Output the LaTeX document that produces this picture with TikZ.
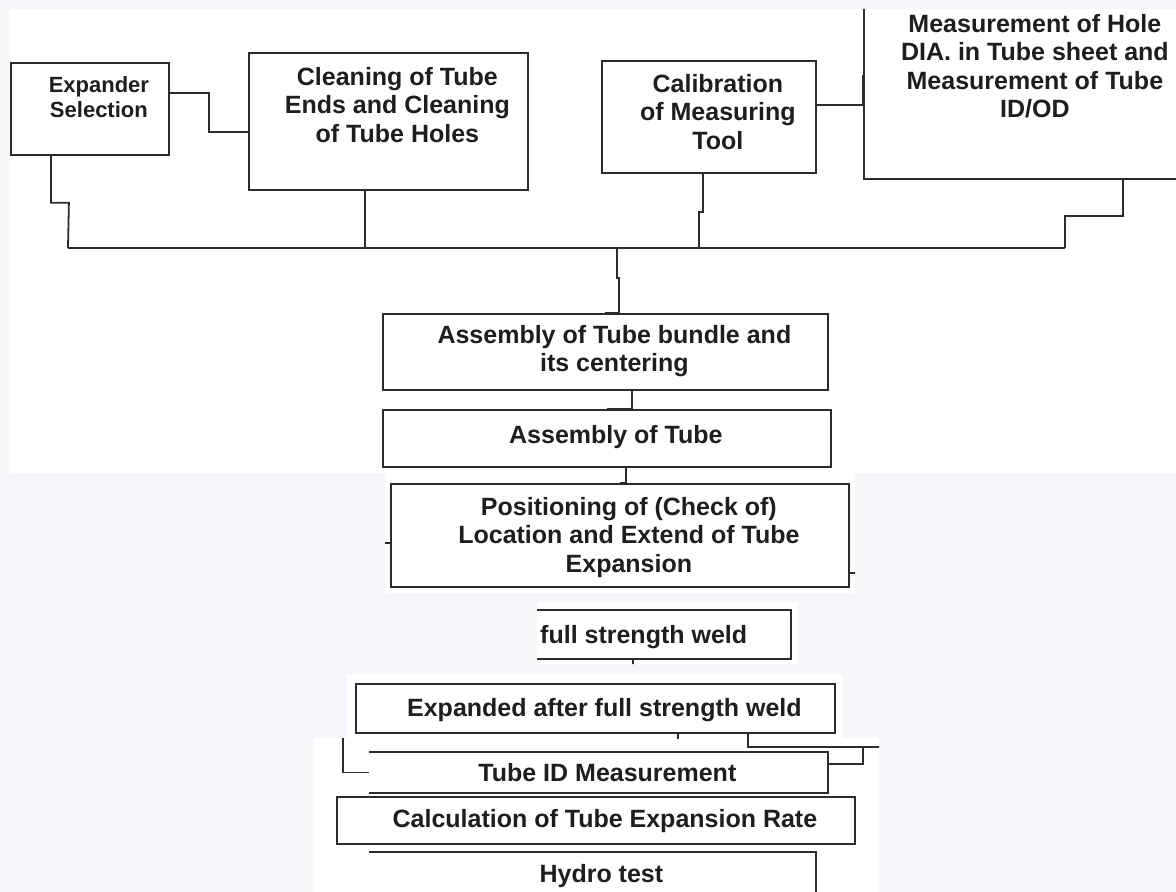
\documentclass[tikz,border=0pt]{standalone}
\usepackage{fontspec}
\setmainfont{Liberation Sans}
\usepackage{xcolor}
\usepackage{tikz}
\definecolor{linegray}{HTML}{2C2C2C}
\definecolor{textgray}{HTML}{1E1E1E}
\definecolor{paper}{HTML}{F5F7FA}
\newcommand{\patchpath}{(9,9) rectangle (1176,473) (385,473) rectangle (855,593) (537,602) rectangle (797,664) (347,674) rectangle (843,738) (313,738) rectangle (879,892)}

\begin{document}
\begin{tikzpicture}[x=1pt,y=-1pt]
\tikzset{b/.style={draw=linegray,line width=1.8pt,fill=white,anchor=north west,inner sep=0pt}, nb/.style={b,draw=none}, t/.style={font=\bfseries\fontsize{25}{28.5}\selectfont,text=textgray,align=center,inner sep=0pt,anchor=north,xshift=9pt}, a/.style={draw=linegray,line width=1.8pt}}
\fill[paper] (0,0) rectangle (1176,892);
\useasboundingbox (0,0) rectangle (1176,892);
\fill[white] \patchpath;
\begin{scope}
\clip \patchpath;
% upper row
\node[b,minimum width=158pt,minimum height=92pt,label={[t,font=\bfseries\fontsize{22}{25.6}\selectfont,yshift=-14.2pt]north:Expander\\Selection}] (exp) at (10,62) {};
\node[b,minimum width=279pt,minimum height=137pt,label={[t,yshift=-15pt]north:Cleaning of Tube\\Ends and Cleaning\\of Tube Holes}] (clean) at (248,52) {};
\node[b,minimum width=214pt,minimum height=112pt,label={[t,yshift=-14pt]north:Calibration\\of Measuring\\Tool}] (calib) at (601,60) {};
\node[b,minimum width=324pt,minimum height=208pt,label={[t,yshift=-44pt]north:Measurement of Hole\\DIA. in Tube sheet and\\Measurement of Tube\\ID/OD}] (meas) at (863,-30) {};
% main column
\node[b,minimum width=445pt,minimum height=76pt,label={[t,yshift=-11.7pt]north:Assembly of Tube bundle and\\its centering}] (bundle) at (382,313) {};
\node[b,minimum width=448pt,minimum height=57pt,label={[t,yshift=-15.7pt]north:Assembly of Tube}] (tube) at (382,409) {};
\node[b,minimum width=458pt,minimum height=103pt,label={[t,yshift=-14pt]north:Positioning of (Check of)\\Location and Extend of Tube\\Expansion}] (pos) at (390,483) {};
\node[b,minimum width=270pt,minimum height=49pt,label={[t,anchor=north west,xshift=11pt,yshift=-15.7pt]north west:full strength weld}] (fsw) at (520,609) {};
\node[b,minimum width=479pt,minimum height=49pt,label={[t,yshift=-15pt]north:Expanded after full strength weld}] (xfw) at (355,683) {};
\node[nb,minimum width=457pt,minimum height=39pt,label={[t,yshift=-10.7pt]north:Tube ID Measurement}] (tid) at (369,752) {};
\node[b,minimum width=518pt,minimum height=47pt,label={[t,yshift=-12.7pt]north:Calculation of Tube Expansion Rate}] (calc) at (336,796) {};
\node[nb,minimum width=445pt,minimum height=53pt,label={[t,yshift=-11.7pt]north:Hydro test}] (hyd) at (369,852) {};
\draw[a] (tid.north west)--(tid.north east)--(tid.south east)--(tid.south west);\draw[a] (hyd.north west)--(hyd.north east)--(hyd.south east);
% collecting line
\coordinate (busL) at (68,248);\coordinate (busR) at (1065,248);\coordinate (hub) at (617,248);
\draw[a] (busL)--(busR);
\draw[a] ([yshift=16pt]exp.east) -- ++(39,0) |- ([yshift=-10.5pt]clean.west);\draw[a] ([yshift=12pt]calib.east) -| (meas.west);
\draw[a] ([xshift=-39pt]exp.south) -- ++(0,47) -- ++(18,0) -- (busL);\draw[a] ([xshift=-23.5pt]clean.south) |- (busL);
\draw[a] ([xshift=-6pt]calib.south) -- ++(0,38) -- ++(-4,0) |- (hub);\draw[a] ([xshift=97pt]meas.south) -- ++(0,36) -| (busR);
\draw[a] (hub) -- ++(0,30) -- ++(2,0) |- (bundle.north);\draw[a] ([xshift=26.5pt]bundle.south) |- (tube.north);\draw[a] ([xshift=19pt]tube.south) |- (pos.north);
\draw[a] ([yshift=-7.5pt]pos.west) -- ++(-20,0);\draw[a] ([yshift=-37.5pt]pos.east) -- ++(20,0);
\draw[a] ([xshift=-23pt]fsw.south) -- ++(0,12);\draw[a] ([xshift=82.5pt]xfw.south) -- ++(0,5);\draw[a] ([xshift=152.5pt]xfw.south) |- ++(160,13);
\draw[a] (tid.west) -- ++(-26,0) -- ++(0,-40);\draw[a] ([yshift=8.5pt]tid.east) -- ++(35,0) -- ++(0,-18);
\end{scope}
\end{tikzpicture}
\end{document}
